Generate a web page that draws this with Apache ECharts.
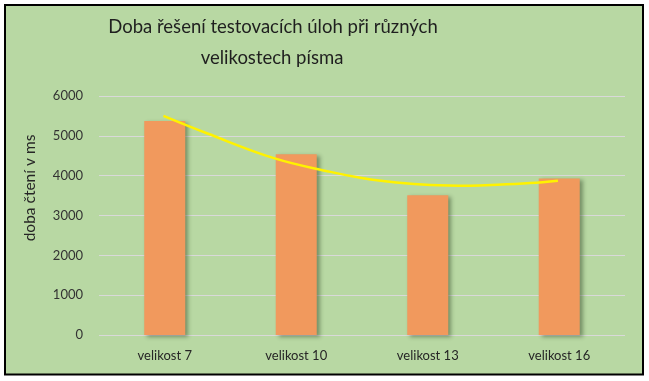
<!DOCTYPE html>
<html>
<head>
<meta charset="utf-8">
<script src="https://cdn.jsdelivr.net/npm/echarts@6/dist/echarts.min.js"></script>
<style>
html,body{margin:0;padding:0;background:#fff;}
#c{width:649px;height:381px;}
</style>
</head>
<body>
<div id="c"></div>
<script>
var categories = ['velikost 7', 'velikost 10', 'velikost 13', 'velikost 16'];
var readTimes = [5370, 4540, 3510, 3930];
// trendline (category position, value)
var trendX = [-0.01, 0.32, 0.83, 1.26, 1.51, 1.76, 2.02, 2.32, 2.53, 2.78, 2.99];
var trendY = [5500, 5064, 4440, 4095, 3935, 3830, 3766, 3748, 3770, 3815, 3874];
var yTicks = [0, 1000, 2000, 3000, 4000, 5000, 6000];
var titleLines = ['Doba řešení testovacích úloh při různých', 'velikostech písma'];
var yAxisTitle = 'doba čtení v ms';

var trendData = trendX.map(function (x, i) { return [x, trendY[i]]; });
var font = 'Lato, "Open Sans", sans-serif';
var chart = echarts.init(document.getElementById('c'), null, {renderer: 'canvas'});
chart.setOption({
  backgroundColor: '#ffffff',
  animation: false,
  graphic: [
    {type: 'rect', z: -10, shape: {x: 5, y: 5, width: 638, height: 369.5},
     style: {fill: '#B8D8A3', stroke: '#000', lineWidth: 2}},
    {type: 'text', x: 30, y: 188, rotation: Math.PI / 2,
     style: {text: yAxisTitle, fill: '#262626', font: '15.5px ' + font, textAlign: 'center', textVerticalAlign: 'middle'}},
    {type: 'text', x: 273, y: 27,
     style: {text: titleLines[0], fill: '#1f1f1f', font: '18.5px ' + font, textAlign: 'center', textVerticalAlign: 'middle'}},
    {type: 'text', x: 272, y: 58,
     style: {text: titleLines[1], fill: '#1f1f1f', font: '18.5px ' + font, textAlign: 'center', textVerticalAlign: 'middle'}}
  ],
  grid: {left: 99, right: 24, top: 96, bottom: 46},
  xAxis: [
    {type: 'category', data: categories,
     axisLine: {show: false}, axisTick: {show: false},
     axisLabel: {fontFamily: font, fontSize: 13, color: '#262626', margin: 14}},
    {type: 'value', min: -0.5, max: 3.5, show: false}
  ],
  yAxis: {
    type: 'value', min: yTicks[0], max: yTicks[yTicks.length - 1], interval: 1000,
    axisLine: {show: false}, axisTick: {show: false},
    axisLabel: {fontFamily: font, fontSize: 13, color: '#333', margin: 16,
                formatter: function (v) { return String(v); }},
    splitLine: {lineStyle: {color: '#D9D9D9', width: 1}}
  },
  series: [
    {type: 'bar', data: readTimes, barWidth: 41, xAxisIndex: 0,
     itemStyle: {color: '#F1995D', shadowColor: 'rgba(40,60,30,0.45)', shadowBlur: 4, shadowOffsetX: 3, shadowOffsetY: 2}},
    {type: 'line', data: trendData, xAxisIndex: 1, smooth: 0.4, symbol: 'none',
     lineStyle: {color: '#FFF200', width: 2.5}, z: 5}
  ]
});
</script>
</body>
</html>
